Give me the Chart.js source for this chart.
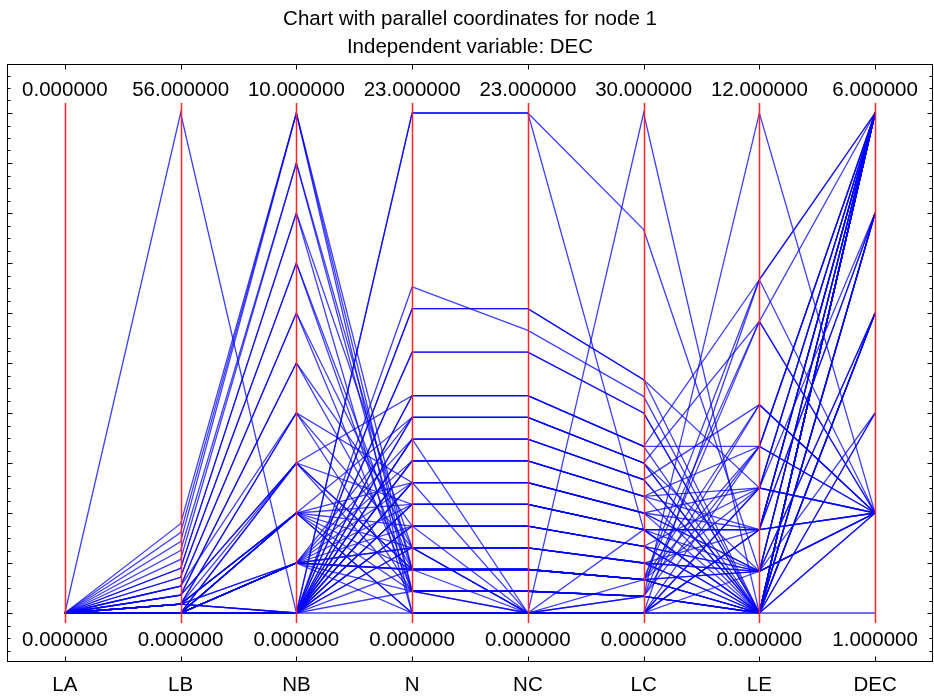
<!DOCTYPE html>
<html>
<head>
<meta charset="utf-8">
<script src="https://cdn.jsdelivr.net/npm/chart.js@4"></script>
<style>
  html, body { margin: 0; padding: 0; background: #fff; }
</style>
</head>
<body>
<canvas id="mychart" width="934" height="698"></canvas>
<script>
// axes of the parallel coordinates chart
var categories = ['LA', 'LB', 'NB', 'N', 'NC', 'LC', 'LE', 'DEC'];
var axisMin = [0, 0, 0, 0, 0, 0, 0, 1];
var axisMax = [0, 56, 10, 23, 23, 30, 12, 6];

var LA  = [0, 0, 0, 0, 0, 0, 0, 0, 0, 0, 0, 0, 0, 0, 0, 0, 0, 0, 0, 0, 0, 0, 0, 0, 0, 0, 0, 0, 0, 0, 0, 0, 0, 0, 0, 0, 0, 0, 0, 0, 0, 0, 0, 0, 0, 0, 0, 0, 0, 0, 0, 0, 0, 0,
           0, 0, 0, 0, 0, 0, 0, 0, 0, 0, 0, 0, 0, 0, 0, 0, 0, 0, 0, 0];
var LB  = [10, 9, 8, 7, 6, 5, 5, 4, 4, 3, 3, 2, 2, 1, 1, 1, 0, 1, 0, 0, 1, 0, 0, 0, 0, 0, 56, 0, 0, 0, 0, 0, 1, 0, 0, 0, 0, 0, 0, 0, 0, 0, 0, 0, 0, 0, 0, 0, 2, 0, 1, 0, 3, 0,
           0, 0, 1, 0, 2, 0, 0, 1, 0, 0, 0, 0, 1, 0, 0, 0, 0, 1, 0, 1];
var NB  = [10, 10, 10, 9, 9, 8, 8, 7, 7, 6, 6, 5, 5, 4, 4, 3, 3, 2, 2, 2, 2, 1, 1, 1, 1, 1, 0, 0, 0, 0, 0, 0, 0, 0, 0, 0, 0, 0, 0, 0, 0, 0, 0, 0, 0, 0, 0, 0, 3, 0, 1, 2, 4, 1,
           1, 0, 2, 1, 3, 0, 2, 1, 0, 0, 1, 2, 0, 1, 0, 3, 0, 2, 1, 0];
var N   = [2, 1, 0, 2, 1, 3, 0, 2, 1, 3, 1, 2, 4, 1, 3, 2, 5, 9, 3, 1, 0, 4, 2, 6, 3, 1, 23, 23, 15, 14, 12, 10, 10, 9, 8, 8, 7, 7, 6, 5, 4, 6, 0, 9, 12, 14, 5, 4, 10, 8, 5, 2, 6, 7,
           2, 3, 4, 0, 1, 2, 5, 3, 1, 6, 8, 0, 4, 9, 3, 2, 7, 6, 2, 5];
var NC  = [2, 1, 0, 2, 0, 3, 0, 2, 1, 3, 0, 2, 4, 1, 0, 0, 5, 9, 3, 1, 0, 4, 2, 6, 0, 1, 23, 23, 13, 14, 12, 10, 10, 9, 8, 8, 7, 7, 6, 5, 4, 0, 0, 9, 12, 14, 5, 0, 10, 0, 5, 2, 6, 7,
           2, 3, 4, 0, 1, 2, 5, 3, 1, 6, 8, 0, 4, 9, 0, 2, 7, 6, 2, 5];
var LC  = [2, 1, 0, 2, 5, 3, 0, 2, 1, 3, 0, 2, 4, 1, 1, 0, 5, 9, 3, 1, 2, 4, 2, 6, 0, 1, 23, 5, 13, 14, 12, 10, 10, 9, 8, 8, 7, 7, 6, 5, 4, 30, 0, 9, 12, 14, 5, 1, 10, 0, 5, 2, 6, 7,
           2, 3, 4, 0, 1, 2, 5, 3, 1, 6, 8, 0, 4, 9, 0, 2, 7, 6, 2, 5];
var LE  = [8, 0, 3, 7, 0, 1, 0, 0, 5, 0, 2, 1, 0, 4, 0, 3, 0, 1, 2, 0, 1, 1, 3, 0, 2, 0, 1, 2, 0, 3, 0, 4, 0, 0, 5, 0, 2, 0, 3, 2, 1, 0, 0, 7, 0, 0, 2, 12, 8, 8, 2, 4, 1, 3,
           0, 0, 0, 4, 0, 5, 0, 1, 7, 1, 0, 2, 3, 0, 1, 0, 4, 2, 0, 1];
var DEC = [6, 6, 2, 6, 5, 2, 6, 4, 2, 6, 2, 6, 5, 2, 6, 2, 6, 2, 6, 3, 2, 6, 5, 2, 6, 6, 2, 2, 6, 2, 6, 2, 6, 5, 2, 6, 6, 4, 6, 2, 3, 2, 1, 2, 6, 4, 6, 2, 2, 6, 5, 6, 4, 6,
           5, 4, 6, 6, 5, 2, 4, 6, 2, 6, 3, 6, 6, 6, 4, 6, 6, 5, 6, 2];

var columns = [LA, LB, NB, N, NC, LC, LE, DEC];

var blue = 'rgba(0, 0, 255, 0.75)';
var red = 'rgb(255, 35, 35)';
var ink = '#000000';
var font = '20.5px "Liberation Sans", Arial, sans-serif';

function scaled(v, i) {
  var span = axisMax[i] - axisMin[i];
  return span === 0 ? 0 : (v - axisMin[i]) / span;
}

var datasets = [];
for (var r = 0; r < LA.length; r++) {
  var row = [];
  for (var i = 0; i < columns.length; i++) {
    row.push(scaled(columns[i][r], i));
  }
  datasets.push({
    data: row,
    borderColor: blue,
    borderWidth: 1.3,
    pointRadius: 0,
    fill: false
  });
}

// frame, red axes, tick marks and the min/max labels
var frame = {
  id: 'frame',
  afterDatasetsDraw: function (chart) {
    var ctx = chart.ctx;
    var x = chart.scales.x, y = chart.scales.y;
    ctx.save();
    ctx.strokeStyle = red;
    ctx.lineWidth = 1.5;
    for (var i = 0; i < categories.length; i++) {
      var px = Math.round(x.getPixelForValue(i)) + 0.5;
      ctx.beginPath();
      ctx.moveTo(px, y.getPixelForValue(1.02));
      ctx.lineTo(px, y.getPixelForValue(-0.02));
      ctx.stroke();
    }
    ctx.restore();
  },
  afterDraw: function (chart) {
    var ctx = chart.ctx;
    var a = chart.chartArea;
    var x = chart.scales.x, y = chart.scales.y;
    ctx.save();
    ctx.strokeStyle = '#000';
    ctx.lineWidth = 1;
    var l = Math.round(a.left) + 0.5, r = Math.round(a.right) - 0.5;
    var t = Math.round(a.top) + 0.5, b = Math.round(a.bottom) - 0.5;
    ctx.strokeRect(l, t, r - l, b - t);

    // left and right ticks
    ctx.beginPath();
    for (var k = -3; k <= 43; k++) {
      var py = Math.round(y.getPixelForValue(k * 0.025)) + 0.5;
      var len = (k % 4 === 0) ? 5 : 3;
      ctx.moveTo(l, py); ctx.lineTo(l + len, py);
      ctx.moveTo(r, py); ctx.lineTo(r - len, py);
    }
    // top and bottom ticks at each axis
    for (var i = 0; i < categories.length; i++) {
      var px = Math.round(x.getPixelForValue(i)) + 0.5;
      ctx.moveTo(px, t); ctx.lineTo(px, t + 5);
      ctx.moveTo(px, b); ctx.lineTo(px, b - 5);
    }
    ctx.stroke();

    ctx.fillStyle = ink;
    ctx.font = font;
    ctx.textAlign = 'center';
    ctx.textBaseline = 'alphabetic';
    for (var j = 0; j < categories.length; j++) {
      var cx = x.getPixelForValue(j);
      ctx.fillText(axisMax[j].toFixed(6), cx, 96);
      ctx.fillText(axisMin[j].toFixed(6), cx, 646);
      ctx.fillText(categories[j], cx, 691);
    }
    var mid = (a.left + a.right) / 2;
    ctx.fillText('Chart with parallel coordinates for node 1', mid, 25);
    ctx.fillText('Independent variable: DEC', mid, 53);
    ctx.restore();
  }
};

var ctx = document.getElementById('mychart').getContext('2d');
var myChart = new Chart(ctx, {
  type: 'line',
  data: {
    labels: categories,
    datasets: datasets
  },
  options: {
    responsive: false,
    animation: false,
    layout: { padding: { top: 64, bottom: 36, left: 7, right: 1 } },
    plugins: {
      legend: { display: false },
      tooltip: { enabled: false },
      title: { display: false }
    },
    scales: {
      x: { type: 'category', offset: true, display: false },
      y: { type: 'linear', min: -0.098, max: 1.098, display: false }
    },
    elements: { line: { tension: 0 } }
  },
  plugins: [frame]
});
</script>
</body>
</html>
